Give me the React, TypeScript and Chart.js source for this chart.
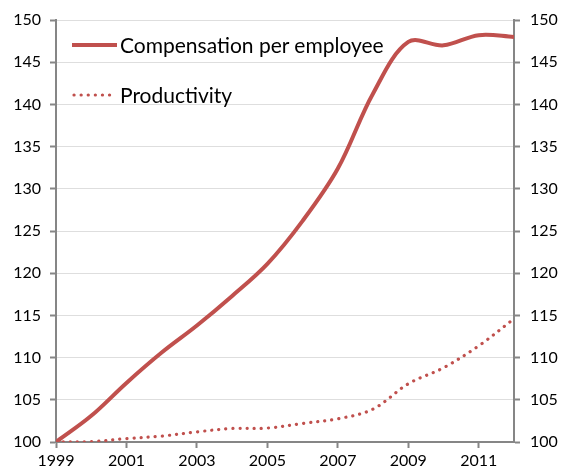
import React, { useEffect, useRef } from "react";
import { Chart, registerables } from "chart.js";

Chart.register(...registerables);

const years = [1999, 2000, 2001, 2002, 2003, 2004, 2005, 2006, 2007, 2008, 2009, 2010, 2011, 2012];
const compensation = [100, 103.1, 107.0, 110.6, 113.8, 117.3, 121.1, 126.2, 132.4, 141.3, 147.4, 147.0, 148.2, 148.0];
const productivity = [100, 100.05, 100.4, 100.7, 101.2, 101.6, 101.65, 102.2, 102.75, 103.9, 106.9, 108.8, 111.4, 114.6];
const xTickYears = [1999, 2001, 2003, 2005, 2007, 2009, 2011];
const yTicks = [100, 105, 110, 115, 120, 125, 130, 135, 140, 145, 150];
const seriesNames = ["Compensation per employee", "Productivity"];

const RED = "#C0504D";
const AXIS = "#868686";
const GRID = "#dedede";
const FONT = "Lato";

export default function App() {
  const ref = useRef<HTMLCanvasElement | null>(null);

  useEffect(() => {
    if (!ref.current) return;
    const tickFont = { family: FONT, size: 16 };
    const chart = new Chart(ref.current, {
      type: "line",
      data: {
        datasets: [
          {
            label: seriesNames[0],
            data: years.map((x, i) => ({ x, y: compensation[i] })),
            borderColor: RED,
            borderWidth: 4,
            pointRadius: 0,
            tension: 0.35,
            fill: false,
          },
          {
            label: seriesNames[1],
            data: years.map((x, i) => ({ x, y: productivity[i] })),
            borderColor: RED,
            borderWidth: 3.2,
            borderDash: [0.1, 7],
            borderCapStyle: "round",
            pointRadius: 0,
            tension: 0.35,
            fill: false,
          },
        ],
      },
      options: {
        animation: false,
        responsive: true,
        maintainAspectRatio: false,
        layout: { padding: { top: 20, left: 0, right: 0, bottom: 0 } },
        plugins: { legend: { display: false }, tooltip: { enabled: false } },
        scales: {
          x: {
            type: "linear",
            min: years[0],
            max: years[years.length - 1],
            afterBuildTicks: (s: any) => {
              s.ticks = xTickYears.map((v) => ({ value: v }));
            },
            afterFit: (s: any) => {
              s.height = 30;
            },
            ticks: {
              callback: (v: any) => String(v),
              color: "#000",
              font: tickFont,
              padding: 3,
              maxRotation: 0,
              autoSkip: false,
            },
            grid: { drawOnChartArea: false, tickColor: AXIS, tickLength: 6, tickWidth: 2 },
            border: { color: AXIS, width: 2 },
          },
          y: {
            position: "left",
            min: 100,
            max: 150,
            afterBuildTicks: (s: any) => {
              s.ticks = yTicks.map((v) => ({ value: v }));
            },
            afterFit: (s: any) => {
              s.width = 56;
            },
            ticks: { color: "#000", font: tickFont, padding: 9 },
            grid: { color: GRID, lineWidth: 1, tickColor: AXIS, tickLength: 6, tickWidth: 2 },
            border: { color: AXIS, width: 2 },
          },
          y2: {
            position: "right",
            min: 100,
            max: 150,
            afterBuildTicks: (s: any) => {
              s.ticks = yTicks.map((v) => ({ value: v }));
            },
            afterFit: (s: any) => {
              s.width = 52;
            },
            ticks: { color: "#000", font: tickFont, padding: 10 },
            grid: { drawOnChartArea: false, tickColor: AXIS, tickLength: 6, tickWidth: 2 },
            border: { color: AXIS, width: 2 },
          },
        },
      },
    } as any);
    return () => chart.destroy();
  }, []);

  const legendText: React.CSSProperties = {
    fontFamily: FONT,
    fontSize: 21,
    color: "#000",
    lineHeight: "26px",
    whiteSpace: "nowrap",
  };

  return (
    <div style={{ position: "absolute", left: 0, top: 0, width: 566, height: 472, background: "#fff" }}>
      <canvas ref={ref} />
      <div style={{ position: "absolute", left: 72, top: 32, display: "flex", alignItems: "center" }}>
        <div style={{ width: 45, height: 4, background: RED, marginRight: 3 }} />
        <span style={legendText}>{seriesNames[0]}</span>
      </div>
      <div style={{ position: "absolute", left: 72, top: 82, display: "flex", alignItems: "center" }}>
        <svg width={48} height={6} style={{ display: "block" }}>
          <line x1={2} y1={3} x2={42} y2={3} stroke={RED} strokeWidth={3.2} strokeDasharray="0.1 7" strokeLinecap="round" />
        </svg>
        <span style={legendText}>{seriesNames[1]}</span>
      </div>
    </div>
  );
}
